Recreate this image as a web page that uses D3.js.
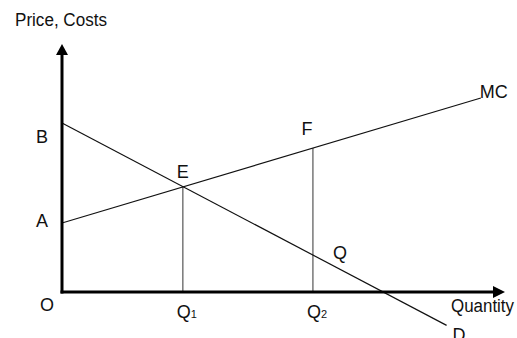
<!DOCTYPE html>
<html>
<head>
<meta charset="utf-8">
<script src="https://cdn.jsdelivr.net/npm/d3@7"></script>
<style>
  body { margin: 0; background: #fff; }
  text { font-family: "Liberation Sans", Arial, sans-serif; fill: #111; }
</style>
</head>
<body>
<div id="chart"></div>
<script>
// curve end points (quantity, price)
const mcQ = [0, 10.4];
const mcP = [3.45, 9.7];
const dQ = [0, 9.55];
const dP = [8.45, -1.67];
// the two quantities with their drop lines up to MC
const dropQ = [3.0, 6.23];
const dropP = [5.27, 7.2];
const dropLabels = ["1", "2"];
// point Q where the Q2 line crosses D
const qPoint = [6.23, 1.85];

const width = 517, height = 338;

const svg = d3.select("#chart")
  .append("svg")
    .attr("width", width)
    .attr("height", height);

const x = d3.scaleLinear().domain([0, 11]).range([62, 505]);
const y = d3.scaleLinear().domain([0, 12.4]).range([292, 44]);

const line = d3.line()
  .x(d => x(d[0]))
  .y(d => y(d[1]));

// drop lines (grey)
svg.selectAll(".drop")
  .data(dropQ)
  .enter().append("line")
    .attr("class", "drop")
    .attr("x1", d => x(d))
    .attr("x2", d => x(d))
    .attr("y1", (d, i) => y(dropP[i]))
    .attr("y2", y(0))
    .attr("stroke", "#777")
    .attr("stroke-width", 1.5);

// MC and D
svg.append("path")
  .datum(d3.zip(mcQ, mcP))
  .attr("fill", "none")
  .attr("stroke", "#111")
  .attr("stroke-width", 1.2)
  .attr("d", line);

svg.append("path")
  .datum(d3.zip(dQ, dP))
  .attr("fill", "none")
  .attr("stroke", "#111")
  .attr("stroke-width", 1.2)
  .attr("d", line);

// axes with arrow heads
const x0 = x(0), y0 = y(0);
const xEnd = x.range()[1], yEnd = y.range()[1];

svg.append("line")
  .attr("x1", x0).attr("y1", y0 + 1.5)
  .attr("x2", x0).attr("y2", yEnd + 8)
  .attr("stroke", "#000").attr("stroke-width", 3);
svg.append("line")
  .attr("x1", x0 - 1.5).attr("y1", y0)
  .attr("x2", xEnd - 8).attr("y2", y0)
  .attr("stroke", "#000").attr("stroke-width", 3);

svg.append("path")
  .attr("d", `M${x0},${yEnd} L${x0 - 6},${yEnd + 11} L${x0 + 6},${yEnd + 11} Z`)
  .attr("fill", "#000");
svg.append("path")
  .attr("d", `M${xEnd},${y0} L${xEnd - 12},${y0 - 6} L${xEnd - 12},${y0 + 6} Z`)
  .attr("fill", "#000");

// axis titles
svg.append("text")
  .attr("x", 15).attr("y", 26)
  .attr("textLength", 92)
  .attr("lengthAdjust", "spacingAndGlyphs")
  .style("font-size", "18px")
  .text("Price, Costs");

svg.append("text")
  .attr("x", 451).attr("y", 311.5)
  .attr("textLength", 63)
  .attr("lengthAdjust", "spacingAndGlyphs")
  .style("font-size", "18px")
  .text("Quantity");

// point labels
function label(t, px, py, anchor) {
  svg.append("text")
    .attr("x", px).attr("y", py)
    .attr("text-anchor", anchor || "middle")
    .style("font-size", "18px")
    .text(t);
}
label("O", x0 - 15, y0 + 19);
label("A", x0 - 20, y(mcP[0]) + 4);
label("B", x0 - 20, y(dP[0]) + 20);
label("E", x(dropQ[0]), y(dropP[0]) - 9);
label("F", x(dropQ[1]) - 6, y(dropP[1]) - 13);
label("MC", x(mcQ[1]) - 1, y(mcP[1]) - 0.5, "start");
label("D", x(dQ[1]) + 6, y(dP[1]) + 16, "start");
label("Q", x(qPoint[0]) + 20, y(qPoint[1]) + 4, "start");

// Q1, Q2 under the axis
const qt = svg.selectAll(".qlab")
  .data(dropQ)
  .enter().append("text")
    .attr("class", "qlab")
    .attr("x", d => x(d) - 6)
    .attr("y", y0 + 25.5)
    .style("font-size", "18px");
qt.append("tspan").text("Q");
qt.append("tspan")
  .attr("dy", 0.5)
  .style("font-size", "11px")
  .text((d, i) => dropLabels[i]);
</script>
</body>
</html>
